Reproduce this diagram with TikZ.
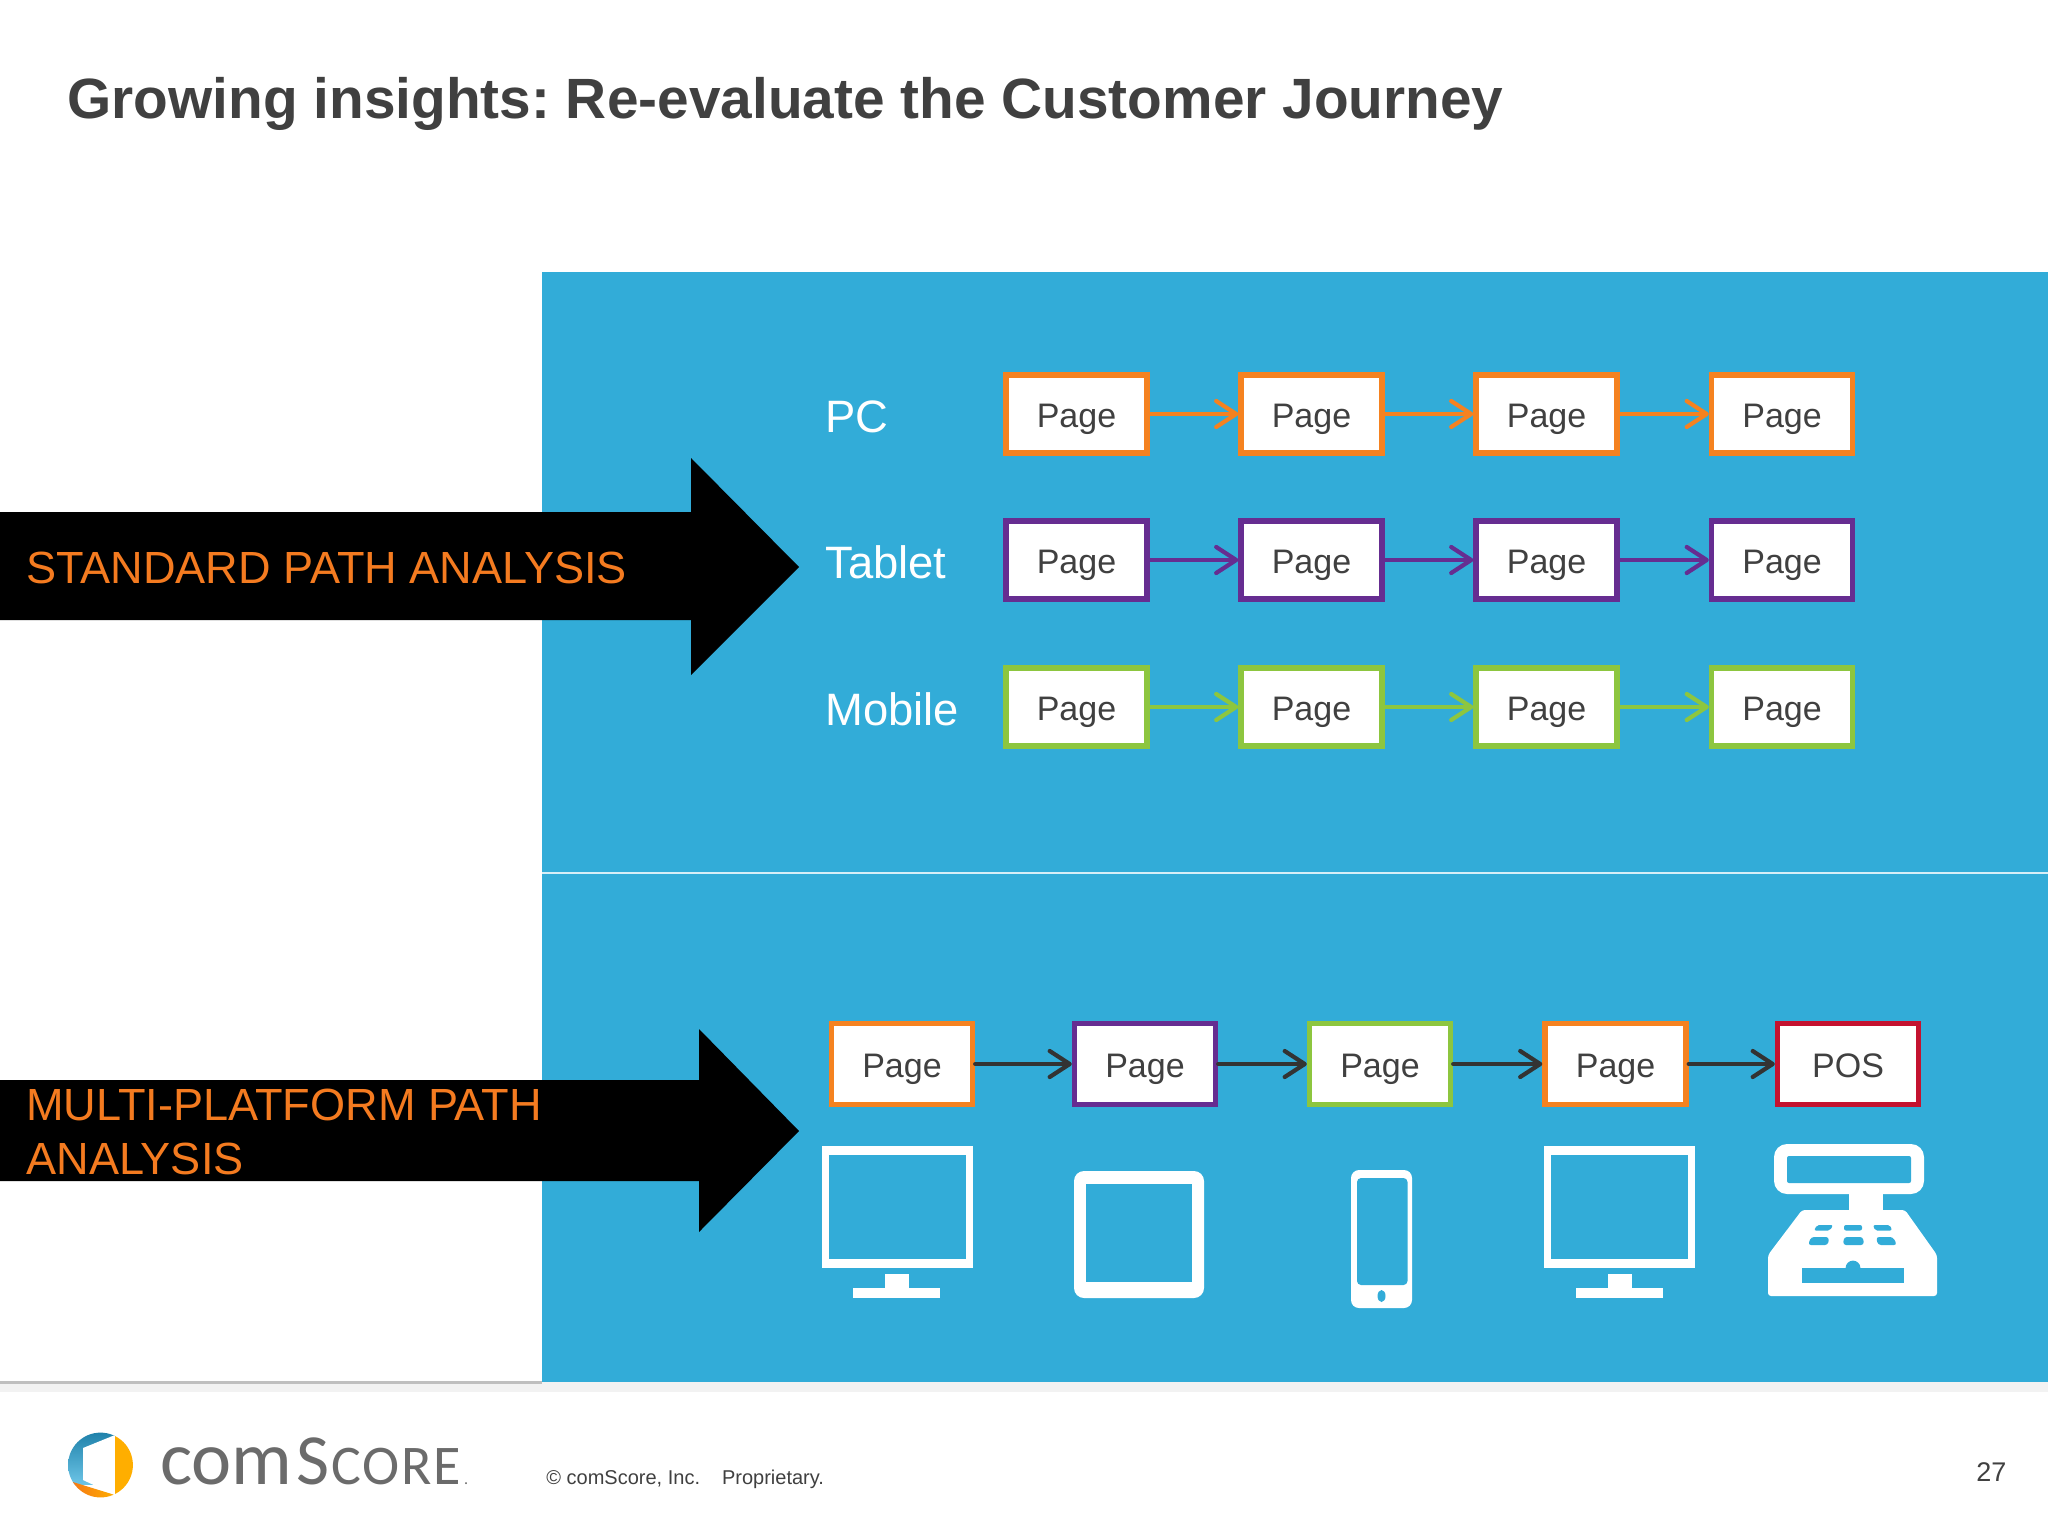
\documentclass[tikz,border=0pt]{standalone}
\usepackage{fontspec}
\setmainfont{Liberation Sans}
\newfontfamily\logofont{Carlito}
\usetikzlibrary{arrows.meta}
\frenchspacing
\definecolor{panelblue}{HTML}{32ACD8}
\definecolor{boxorange}{HTML}{F58220}
\definecolor{boxpurple}{HTML}{662D91}
\definecolor{boxgreen}{HTML}{8DC63F}
\definecolor{boxred}{HTML}{C4122F}
\definecolor{ink}{HTML}{404040}
\definecolor{arrowdark}{HTML}{333333}
\definecolor{labelorange}{HTML}{F47B20}
\definecolor{logotop}{HTML}{1C7FA8}
\definecolor{logomid}{HTML}{6CC4E6}
\definecolor{logoamber}{HTML}{FFAE00}
\definecolor{logored}{HTML}{F26A1B}
\tikzset{
  pagebox/.style={draw=#1,line width=2.8pt,fill=white,inner sep=0pt,minimum width=70.4pt,minimum height=39.2pt,
    text=ink,text height=13pt,text depth=0pt,font=\fontsize{17}{20}\selectfont},
  link/.style={draw=#1,line width=2.1pt,line cap=round,-{Straight Barb[length=10pt,width=13pt,round]}},
  rowlabel/.style={text=white,anchor=base west,inner sep=0pt,font=\fontsize{22.7}{26}\selectfont},
  banner/.style={text=labelorange,anchor=base west,inner sep=0pt,font=\fontsize{22.55}{27}\selectfont},
  glyph/.style={fill=white,draw=none},
  hole/.style={fill=panelblue,draw=none},
}
\begin{document}
\begin{tikzpicture}[x=0.5pt,y=-0.5pt]
\useasboundingbox (0,0) rectangle (2048,1536);
\fill[white] (0,0) rectangle (2048,1536);
% title
\node[anchor=base west,inner sep=0pt,text=ink,font=\bfseries\fontsize{28.4}{34}\selectfont] (title) at (67,119) {Growing insights: Re-evaluate the Customer Journey};
% footer band
\fill[black!5] (0,1382) rectangle (2048,1392);
\fill[black!25] (0,1381) rectangle (542,1384);
% panel
\fill[panelblue] (542,272) rectangle (2048,1382);
\draw[white!80!panelblue,line width=1pt] (542,873) -- (2048,873);
% banners
\fill[black] (0,512) -- (691,512) -- (691,458) -- (799,567) -- (691,675) -- (691,620) -- (0,620) -- cycle;
\fill[black] (0,1080) -- (699,1080) -- (699,1029) -- (799,1131) -- (699,1232) -- (699,1181) -- (0,1181) -- cycle;
\node[banner] (std) at (26,583) {STANDARD PATH ANALYSIS};
\node[banner] (multia) at (26,1120) {MULTI-PLATFORM PATH};
\node[banner] (multib) at (26,1174) {ANALYSIS};
% row labels
\node[rowlabel] (pc) at (825,432) {PC};
\node[rowlabel] (tablet) at (825,578) {Tablet};
\node[rowlabel] (mobile) at (825,725) {Mobile};
% rows
\foreach \r/\y/\col in {a/414/boxorange,b/560/boxpurple,c/707/boxgreen}{
  \foreach \i/\x in {1/1076.5,2/1311.5,3/1546.5,4/1782}{
    \node[pagebox=\col] (\r\i) at (\x,\y) {Page};
  }
  \draw[link=\col] (\r1.east) -- (\r2.west);
  \draw[link=\col] (\r2.east) -- (\r3.west);
  \draw[link=\col] (\r3.east) -- (\r4.west);
}
% multi-platform row
\node[pagebox=boxorange,minimum height=40.5pt] (m1) at (902,1064) {Page};
\node[pagebox=boxpurple,minimum height=40.5pt] (m2) at (1145,1064) {Page};
\node[pagebox=boxgreen,minimum height=40.5pt] (m3) at (1380,1064) {Page};
\node[pagebox=boxorange,minimum height=40.5pt] (m4) at (1615.5,1064) {Page};
\node[pagebox=boxred,minimum height=40.5pt] (m5) at (1848,1064) {POS};
\draw[link=arrowdark] (m1.east) -- (m2.west);
\draw[link=arrowdark] (m2.east) -- (m3.west);
\draw[link=arrowdark] (m3.east) -- (m4.west);
\draw[link=arrowdark] (m4.east) -- (m5.west);
% monitor 1
\fill[glyph] (822,1146) rectangle (972.5,1268);
\fill[hole] (829,1155) rectangle (966,1259);
\fill[glyph] (885,1274) rectangle (909,1288);
\fill[glyph] (853,1288) rectangle (940,1298);
% tablet
\fill[glyph,rounded corners=5pt] (1074,1171) rectangle (1204,1298);
\fill[hole] (1086,1184) rectangle (1192,1282);
% phone
\fill[glyph,rounded corners=4pt] (1351,1170) rectangle (1412,1308);
\fill[hole,rounded corners=2pt] (1357,1178) rectangle (1407.5,1285);
\fill[hole] (1381.5,1296) circle [x radius=4,y radius=6];
% monitor 2
\fill[glyph] (1544,1146) rectangle (1695,1268);
\fill[hole] (1551,1155) rectangle (1688,1259);
\fill[glyph] (1608,1274) rectangle (1632,1288);
\fill[glyph] (1576,1288) rectangle (1663,1298);
% register
\fill[glyph,rounded corners=6.5pt] (1774,1144) rectangle (1924,1194);
\fill[hole,rounded corners=1pt] (1787,1156) rectangle (1911,1183);
\fill[glyph] (1849,1190) rectangle (1883,1212);
\fill[glyph,rounded corners=1.5pt] (1802,1210) -- (1905,1210) -- (1937,1255) -- (1937,1296) -- (1768,1296) -- (1768,1255) -- cycle;
\fill[hole] (1802,1268) rectangle (1904,1283);
\fill[hole] (1853,1268) circle [radius=3.7pt];
\foreach \a/\b/\c/\d in {1817/1833/1830/1814,1844/1862/1862/1844,1873/1890/1892/1875}
  \fill[hole,rounded corners=1pt] (\a,1225) -- (\b,1225) -- (\c,1230.5) -- (\d,1230.5) -- cycle;
\foreach \a/\b/\c/\d in {1811/1829/1828/1808,1844/1863/1864/1843,1876/1893/1897/1878}
  \fill[hole,rounded corners=1.5pt] (\a,1237) -- (\b,1237) -- (\c,1245) -- (\d,1245) -- cycle;
% logo
\begin{scope}
  \clip (100.5,1465) circle [radius=16.2pt];
  \shade[top color=logotop,bottom color=logomid] (60,1430) rectangle (115,1484);
  \shade[left color=logored,right color=logoamber] (60,1478) -- (115,1495) -- (115,1505) -- (60,1505) -- cycle;
  \fill[white] (115,1435) -- (83,1448) -- (83,1480) -- (115,1495) -- cycle;
  \fill[logoamber] (115,1428) rectangle (140,1505);
\end{scope}
\node[anchor=base west,inner sep=0pt,text=black!58,font=\logofont\fontsize{38}{40}\selectfont] (logotype) at (160,1484) {com\hspace{2pt}{\fontsize{36}{40}\selectfont S}\hspace{1pt}{\addfontfeature{LetterSpace=3}\fontsize{28}{30}\selectfont CORE}\hspace{1.5pt}{\fontsize{8}{8}\selectfont .}};
\node[anchor=base west,inner sep=0pt,text=ink,font=\fontsize{10}{12}\selectfont] (copy) at (546,1484) {© comScore, Inc.\hspace{11pt}Proprietary.};
\node[anchor=base west,inner sep=0pt,text=ink,font=\fontsize{13.5}{16}\selectfont] (num) at (1976,1481) {27};
\end{tikzpicture}
\end{document}
